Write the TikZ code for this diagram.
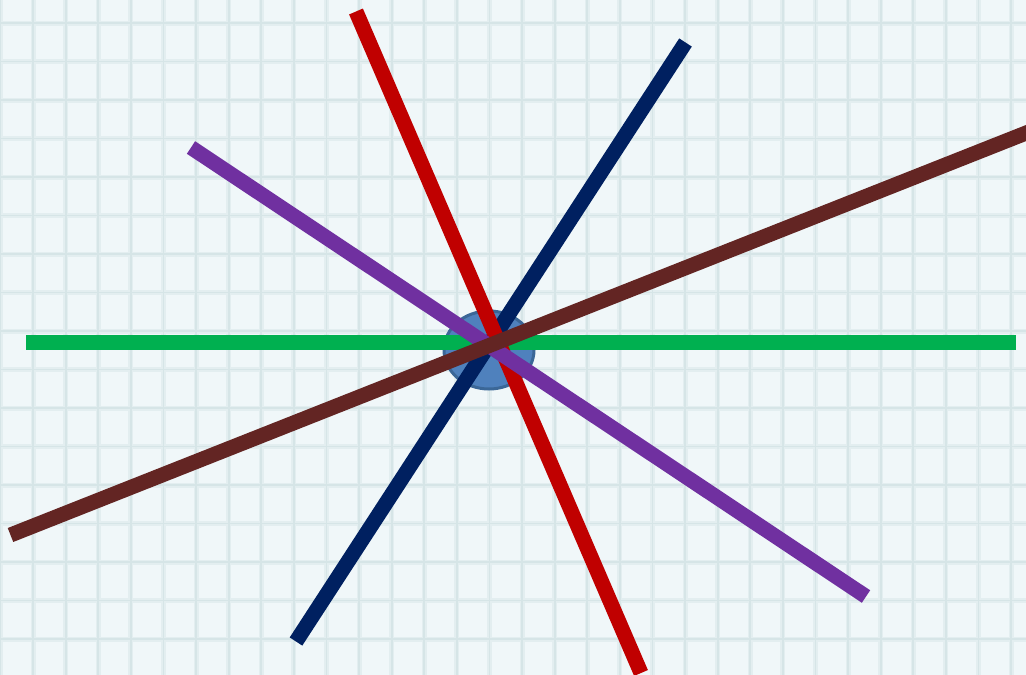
\documentclass[tikz,border=0pt]{standalone}
\usepackage{tikz}
\usetikzlibrary{shapes.geometric}
\definecolor{paper}{HTML}{F0F7F9}
\definecolor{gridc}{HTML}{D6E5E7}
\definecolor{gridsoft}{HTML}{E3EEF0}
\definecolor{hubfill}{HTML}{4F81BD}
\definecolor{hubdraw}{HTML}{3B6797}
\definecolor{lgreen}{HTML}{00B050}
\definecolor{lred}{HTML}{C00000}
\definecolor{lnavy}{HTML}{002060}
\definecolor{lpurple}{HTML}{7030A0}
\definecolor{lbrown}{HTML}{632523}
\tikzset{
  spoke/.style={line width=15pt, line cap=butt},
  gridhalo/.style={gridsoft, line width=5pt},
  gridline/.style={gridc, line width=1.8pt},
  hub/.style={ellipse, minimum width=90pt, minimum height=78pt, inner sep=0pt,
    fill=hubfill, draw=hubdraw, line width=3pt}
}
\begin{document}
\begin{tikzpicture}[x=1pt,y=-1pt]
\useasboundingbox (0,0) rectangle (1026,675);
\fill[paper] (0,0) rectangle (1026,675);
\begin{scope}
\clip (0,0) rectangle (1026,675);
\foreach \k in {-1,...,31} {
  \draw[gridhalo] ({33+32.6*\k},0) -- ({33+32.6*\k},675);
}
\foreach \k in {-1,...,17} {
  \draw[gridhalo] (0,{23+38.5*\k}) -- (1026,{23+38.5*\k});
}
\foreach \k in {-1,...,31} {
  \draw[gridline] ({33+32.6*\k},0) -- ({33+32.6*\k},675);
}
\foreach \k in {-1,...,17} {
  \draw[gridline] (0,{23+38.5*\k}) -- (1026,{23+38.5*\k});
}
\node[hub] (hub) at (489,350) {};
\coordinate (gL) at (26,342);
\coordinate (gR) at (1016,342);
\coordinate (rT) at (356,11.5);
\coordinate (rB) at (641,673);
\coordinate (nT) at (685.5,42.5);
\coordinate (nB) at (296,641.5);
\coordinate (pT) at (191,147.5);
\coordinate (pB) at (866,596.5);
\coordinate (bR) at (1040,127.5);
\coordinate (bL) at (10.5,535);
\draw[spoke, lgreen] (gL) -- (gR);
\draw[spoke, lnavy] (nT) -- (nB);
\draw[spoke, lred] (rT) -- (rB);
\draw[spoke, lpurple] (pT) -- (pB);
\draw[spoke, lbrown] (bL) -- (bR);
\end{scope}
\end{tikzpicture}
\end{document}
